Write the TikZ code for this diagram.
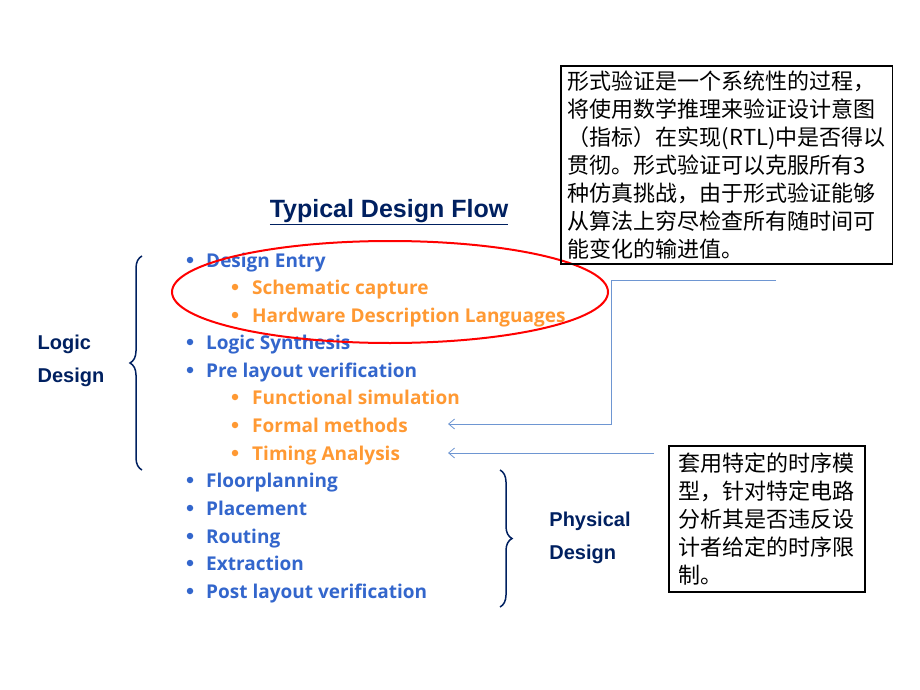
\documentclass[tikz,border=0pt]{standalone}
\usepackage{fontspec}
\setmainfont{Open Sans}
\newfontfamily\titlefont{Liberation Sans}
\newfontfamily\cjk{Noto Sans CJK SC}
\usetikzlibrary{positioning, decorations.pathreplacing, arrows.meta}
\definecolor{itemblue}{RGB}{51,102,204}
\definecolor{subor}{RGB}{255,153,51}
\definecolor{navy}{RGB}{0,32,96}
\definecolor{linkblue}{RGB}{110,150,210}

\tikzset{
  item/.style={anchor=base west, text=itemblue, font=\fontsize{19}{22}\selectfont\bfseries, inner sep=0pt},
  sub/.style={anchor=base west, text=subor, font=\fontsize{19}{22}\selectfont\bfseries, inner sep=0pt},
  dot/.style={circle, inner sep=0pt, minimum size=6.5pt},
  side/.style={text=navy, font=\titlefont\fontsize{20}{33}\selectfont\bfseries, align=left},
  note/.style={draw, line width=1.8pt, anchor=north west, align=left, inner sep=6pt,
    font=\cjk\fontsize{22}{28}\selectfont},
  link/.style={draw=linkblue, line width=0.8pt},
}

\begin{document}
\begin{tikzpicture}[x=1pt,y=-1pt]
\useasboundingbox (0,0) rectangle (920,690);
% title
\node (title) at (389,212) {\titlefont\fontsize{25}{28}\selectfont\bfseries\color{navy}\underline{Typical Design Flow}};
% list
\foreach \y/\t [count=\i] in {260/Design Entry,342/Logic Synthesis,370/Pre layout verification,
  480/Floorplanning,508/Placement,536/Routing,563/Extraction,591/Post layout verification}{
  \node[dot, fill=itemblue] at (190,\y) {};
  \node[item] (it\i) at (206,\y+7) {\t};
}
\foreach \y/\t [count=\i] in {287/Schematic capture,315/Hardware Description Languages,
  397/Functional simulation,425/Formal methods,453/Timing Analysis}{
  \node[dot, fill=subor] at (235,\y) {};
  \node[sub] (sb\i) at (252,\y+7) {\t};
}
% braces
\draw[navy, line width=1.5pt, decorate, decoration={brace, amplitude=12pt}]
  (142,470) -- (142,256);
\node[side] (logic) at (71,361) {Logic\\Design};
\draw[navy, line width=1.5pt, decorate, decoration={brace, amplitude=12pt}]
  (500,470) -- (500,607);
\node[side] (phys) at (590,538) {Physical\\Design};
% highlight
\draw[red, line width=2pt] (390,292) ellipse [x radius=218, y radius=51];
% notes
\node[note, inner sep=5pt, inner xsep=7pt] (n1) at (560,65) {形式验证是一个系统性的过程，\\将使用数学推理来验证设计意图\\（指标）在实现(RTL)中是否得以\\贯彻。形式验证可以克服所有3\\种仿真挑战，由于形式验证能够\\从算法上穷尽检查所有随时间可\\能变化的输进值。};
\node[note, inner sep=7pt, inner xsep=10pt] (n2) at (668,445) {套用特定的时序模\\型，针对特定电路\\分析其是否违反设\\计者给定的时序限\\制。};
% connectors
\coordinate (c1) at (776,280);
\coordinate (c2) at (611,280);
\coordinate (c3) at (611,424);
\coordinate (a1) at (448,424);
\coordinate (c4) at (654,453);
\coordinate (a2) at (448,453);
\draw[link, -{Straight Barb[length=6pt,width=10pt]}] (c1) -- (c2) -- (c3) -- (a1);
\draw[link, -{Straight Barb[length=6pt,width=10pt]}] (c4) -- (a2);
\end{tikzpicture}
\end{document}
